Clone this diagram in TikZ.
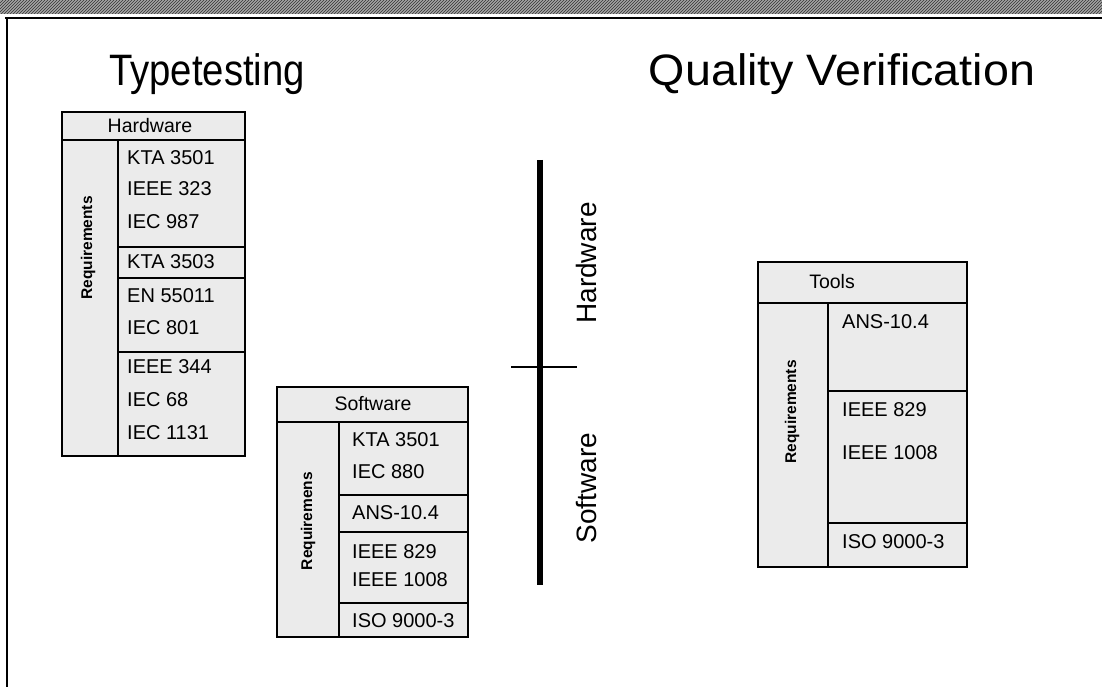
\documentclass[tikz,border=0pt]{standalone}
\usepackage{fontspec}
\setmainfont{Liberation Sans}
\usetikzlibrary{patterns}
\begin{document}
\begin{tikzpicture}[x=1pt,y=-1pt,
  cell/.style={draw=black, line width=1.6pt, fill=black!8},
  rule/.style={draw=black, line width=1.6pt},
  item/.style={anchor=west, inner sep=0pt, font=\fontsize{20}{22}\selectfont},
  head/.style={inner sep=0pt, font=\fontsize{19.5}{22}\selectfont},
  req/.style={rotate=90, inner sep=0pt, font=\bfseries\fontsize{15.5}{18}\selectfont},
  title/.style={anchor=base, inner sep=0pt, font=\fontsize{44}{48}\selectfont},
  side/.style={rotate=90, inner sep=0pt, font=\fontsize{28}{30}\selectfont}]
\useasboundingbox (0,0) rectangle (1102,687);
% top band and frame
\fill[black!35] (0,0) rectangle (1102,14);
\fill[pattern=north east lines, pattern color=black!80] (0,0) rectangle (1102,14);
\draw[line width=2pt] (5,18) -- (1102,18);
\draw[line width=1.5pt] (7,18) -- (7,687);
% titles
\node[title, xscale=0.87] (t1) at (207,86) {Typetesting};
\node[title, xscale=1.06] (t2) at (842,86) {Quality Verification};
% ---------- Hardware table ----------
\draw[cell] (62,112) rectangle (245,140);
\node[head] (hwh) at (150,126) {Hardware};
\draw[cell] (62,140) rectangle (245,456);
\draw[rule] (118,140) -- (118,456);
\draw[rule] (118,247) -- (245,247);
\draw[rule] (118,278) -- (245,278);
\draw[rule] (118,352) -- (245,352);
\node[req] (hwr) at (88,248) {Requirements};
\node[item] (h1) at (127,158) {KTA 3501};
\node[item] (h2) at (127,189) {IEEE 323};
\node[item] (h3) at (127,222) {IEC 987};
\node[item] (h4) at (127,262) {KTA 3503};
\node[item] (h5) at (127,296) {EN 55011};
\node[item] (h6) at (127,328) {IEC 801};
\node[item] (h7) at (127,367) {IEEE 344};
\node[item] (h8) at (127,400) {IEC 68};
\node[item] (h9) at (127,433) {IEC 1131};
% ---------- Software table ----------
\draw[cell] (277,387) rectangle (468,422);
\node[head] (swh) at (373,404) {Software};
\draw[cell] (277,422) rectangle (468,637);
\draw[rule] (339,422) -- (339,637);
\draw[rule] (339,495) -- (468,495);
\draw[rule] (339,532) -- (468,532);
\draw[rule] (339,603) -- (468,603);
\node[req] (swr) at (308,521) {Requiremens};
\node[item] (s1) at (352,440) {KTA 3501};
\node[item] (s2) at (352,472) {IEC 880};
\node[item] (s3) at (352,513) {ANS-10.4};
\node[item] (s4) at (352,552) {IEEE 829};
\node[item] (s5) at (352,580) {IEEE 1008};
\node[item] (s6) at (352,621) {ISO 9000-3};
% ---------- divider ----------
\coordinate (vt) at (540,160);
\coordinate (vb) at (540,585);
\coordinate (cl) at (511,367);
\coordinate (cr) at (577,367);
\draw[line width=6.5pt] (vt) -- (vb);
\draw[line width=2.5pt] (cl) -- (cr);
\node[side] (hw) at (586,263) {Hardware};
\node[side] (sw) at (586,488) {Software};
% ---------- Tools table ----------
\draw[cell] (758,262) rectangle (967,303);
\node[head] (th) at (832,282) {Tools};
\draw[cell] (758,303) rectangle (967,567);
\draw[rule] (828,303) -- (828,567);
\draw[rule] (828,391) -- (967,391);
\draw[rule] (828,523) -- (967,523);
\node[req] (tr) at (792,412) {Requirements};
\node[item] (q1) at (842,322) {ANS-10.4};
\node[item] (q2) at (842,410) {IEEE 829};
\node[item] (q3) at (842,453) {IEEE 1008};
\node[item] (q4) at (842,542) {ISO 9000-3};
\end{tikzpicture}
\end{document}
